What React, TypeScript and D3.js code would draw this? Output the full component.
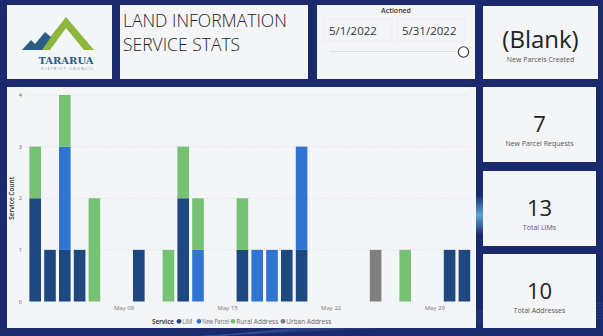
import React from "react";
import * as d3 from "d3";

const dates = ["2022-05-02","2022-05-03","2022-05-04","2022-05-05","2022-05-06","2022-05-09","2022-05-11","2022-05-12","2022-05-13","2022-05-16","2022-05-17","2022-05-18","2022-05-19","2022-05-20","2022-05-25","2022-05-27","2022-05-30","2022-05-31"];
const seriesNames = ["LIM", "New Parcel", "Rural Address", "Urban Address"];
const lim =        [2,1,1,1,0,1,0,2,0,1,0,0,1,1,0,0,1,1];
const newParcel =  [0,0,2,0,0,0,0,0,1,0,1,1,0,2,0,0,0,0];
const rural =      [1,0,1,0,2,0,1,1,1,1,0,0,0,0,0,1,0,0];
const urban =      [0,0,0,0,0,0,0,0,0,0,0,0,0,0,1,0,0,0];
const colors = ["#1d4880", "#2f74d0", "#76c274", "#808080"];
const yTicks = [0,1,2,3,4];
const xTickDates = ["2022-05-08","2022-05-15","2022-05-22","2022-05-29"];
const cards = [
  { value: "(Blank)", label: "New Parcels Created" },
  { value: "7", label: "New Parcel Requests" },
  { value: "13", label: "Total LIMs" },
  { value: "10", label: "Total Addresses" },
];

const FONT = "'Open Sans', 'Noto Sans', sans-serif";
const parse = (s: string) => { const [y, m, d] = s.split("-").map(Number); return new Date(y, m - 1, d); };

export default function App() {
  const W = 603, H = 336;
  const px0 = 26, px1 = 470;
  const dayMs = 86400000;
  const ref8 = parse("2022-05-08").getTime();
  const pxPerDay = 14.8;
  const x = d3.scaleTime()
    .domain([new Date(ref8 + ((px0 - 124) / pxPerDay) * dayMs), new Date(ref8 + ((px1 - 124) / pxPerDay) * dayMs)])
    .range([px0, px1]);
  const y = d3.scaleLinear().domain([0, 4]).range([301.5, 95]);
  const rows = dates.map((d, i) => ({ date: parse(d), LIM: lim[i], "New Parcel": newParcel[i], "Rural Address": rural[i], "Urban Address": urban[i] }));
  const stack = d3.stack<any>().keys(seriesNames)(rows);
  const bw = 11.6;

  const cardBoxes = [
    { x: 483, y: 6, w: 115, h: 73, dy: 0 },
    { x: 483, y: 87, w: 113, h: 75, dy: 2 },
    { x: 483, y: 171, w: 113, h: 75, dy: 2 },
    { x: 483, y: 254, w: 113, h: 74, dy: 2.5 },
  ];

  const legendItems = [
    { name: "LIM", x: 179, w: 10 },
    { name: "New Parcel", x: 199, w: 27 },
    { name: "Rural Address", x: 233, w: 42 },
    { name: "Urban Address", x: 283, w: 45 },
  ];

  return (
    <svg width={W} height={H} style={{ position: "absolute", left: 0, top: 0 }} fontFamily={FONT}>
      <defs>
        <linearGradient id="glow" x1="0" y1="0" x2="0" y2="1">
          <stop offset="0" stopColor="#1a2a6c" />
          <stop offset="0.5" stopColor="#6fc3e6" />
          <stop offset="1" stopColor="#1a2a6c" />
        </linearGradient>
      </defs>
      <rect x={0} y={0} width={W} height={H} fill="#1a2a6c" />
      <rect x={476} y={195} width={7} height={40} fill="url(#glow)" opacity={0.8} />
      {d3.range(6).map(i => (
        <path key={i} d={`M ${200 + i * 4} 336 Q 400 ${326 - i * 2} 603 ${318 - i * 3}`} stroke="#3a5aa0" strokeWidth={0.6} fill="none" opacity={0.7} />
      ))}

      {/* logo panel */}
      <rect x={7} y={5} width={105} height={74} fill="#f4f5f7" />
      <path d="M 40 50 L 66 17 L 94 50 L 84 50 L 66 28 L 50 50 Z" fill="#8cb63c" />
      <path d="M 22 50 L 31 40 L 35 44 L 45 32 L 51 37 L 42 50 Z" fill="#2a5c86" />
      <text x={66} y={64} textAnchor="middle" fontSize={10} fontWeight={700} fill="#2a5c86" fontFamily="'DejaVu Serif', serif" textLength={55} lengthAdjust="spacingAndGlyphs">TARARUA</text>
      <text x={67} y={70} textAnchor="middle" fontSize={3.4} fill="#6a7a8a" textLength={52} lengthAdjust="spacing">DISTRICT COUNCIL</text>

      {/* title panel */}
      <rect x={120} y={5} width={188} height={74} fill="#f4f5f7" />
      <text x={123} y={27} fontSize={17.5} fill="#252525" fontWeight={300}>LAND INFORMATION</text>
      <text x={123} y={51} fontSize={17.5} fill="#252525" fontWeight={300}>SERVICE STATS</text>

      {/* slicer panel */}
      <rect x={317} y={5} width={158} height={74} fill="#f4f5f7" />
      <text x={396} y={13} textAnchor="middle" fontSize={7} fontWeight={600} fill="#333">Actioned</text>
      <rect x={324} y={19} width={68} height={22} fill="none" stroke="#eaebee" strokeWidth={0.7} />
      <rect x={397} y={19} width={68} height={22} fill="none" stroke="#eaebee" strokeWidth={0.7} />
      <text x={329} y={35} fontSize={11.5} fill="#333">5/1/2022</text>
      <text x={402} y={35} fontSize={11.5} fill="#333">5/31/2022</text>
      <line x1={330} y1={51.5} x2={459} y2={51.5} stroke="#dcdde0" strokeWidth={1.2} />
      <circle cx={463.5} cy={52} r={5.2} fill="#fff" stroke="#333" strokeWidth={1.1} />

      {/* KPI cards */}
      {cards.map((c, i) => {
        const b = cardBoxes[i];
        const big = i === 0 ? 24 : 22;
        return (
          <g key={i}>
            <rect x={b.x} y={b.y} width={b.w} height={b.h} fill="#f4f5f7" />
            <text x={b.x + b.w / 2} y={b.y + b.h / 2 + 5 + b.dy} textAnchor="middle" fontSize={big} fill="#222">{c.value}</text>
            <text x={b.x + b.w / 2} y={b.y + b.h / 2 + 19 + b.dy} textAnchor="middle" fontSize={7} fill="#555">{c.label}</text>
          </g>
        );
      })}

      {/* chart panel */}
      <rect x={7} y={87} width={469} height={241} fill="#f4f5f7" />
      {yTicks.map(t => (
        <g key={t}>
          {t > 0 && <line x1={px0} x2={px1} y1={y(t)} y2={y(t)} stroke="#dfe0e3" strokeWidth={0.8} strokeDasharray="1.5,1.5" />}
          <text x={22} y={y(t) + 2} textAnchor="end" fontSize={5.5} fill="#666">{t}</text>
        </g>
      ))}
      <text transform={`translate(14,${(y(0) + y(4)) / 2}) rotate(-90)`} textAnchor="middle" fontSize={6.5} fontWeight={600} fill="#333">Service Count</text>
      {stack.map((s, si) => (
        <g key={si} fill={colors[si]}>
          {s.map((d: any, i: number) => d[1] > d[0] ? (
            <rect key={i} x={x(rows[i].date) - bw / 2} y={y(d[1])} width={bw} height={y(d[0]) - y(d[1])} />
          ) : null)}
        </g>
      ))}
      {xTickDates.map(t => (
        <text key={t} x={x(parse(t))} y={310} textAnchor="middle" fontSize={6} fill="#777">{d3.timeFormat("%b %d")(parse(t))}</text>
      ))}
      <text x={152} y={323.5} fontSize={6.8} fontWeight={700} fill="#444" textLength={22} lengthAdjust="spacingAndGlyphs">Service</text>
      {legendItems.map((l, i) => (
        <g key={l.name}>
          <circle cx={l.x} cy={321.3} r={2.4} fill={colors[i]} />
          <text x={l.x + 3.3} y={323.5} fontSize={6.8} fill="#666" textLength={l.w} lengthAdjust="spacingAndGlyphs">{l.name}</text>
        </g>
      ))}
    </svg>
  );
}
